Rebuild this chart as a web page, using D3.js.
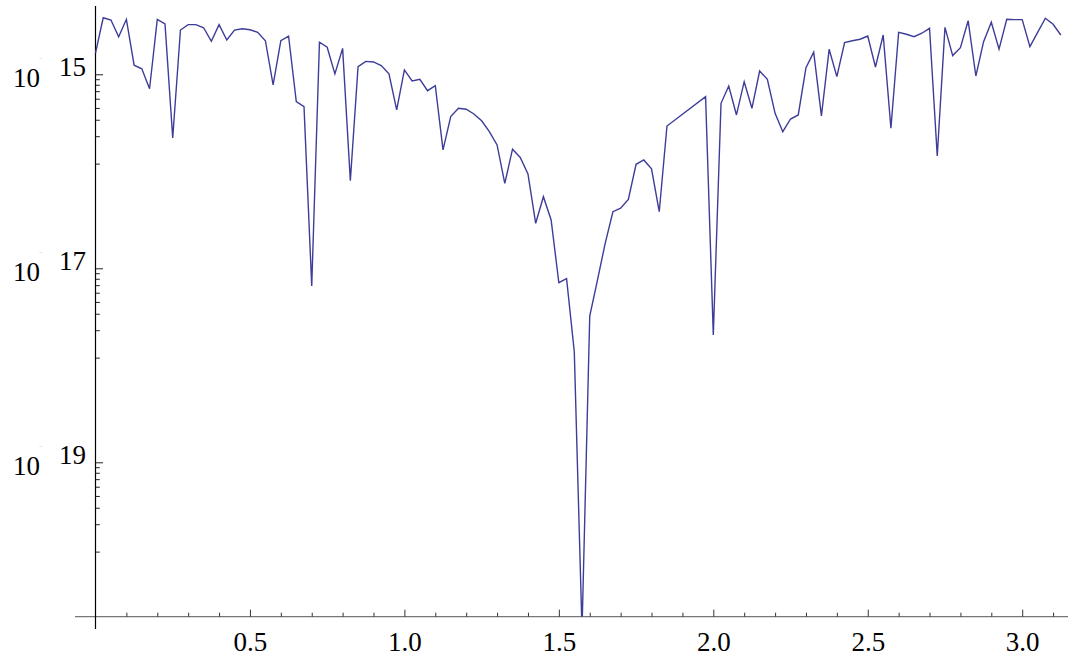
<!DOCTYPE html>
<html>
<head>
<meta charset="utf-8">
<script src="https://cdn.jsdelivr.net/npm/d3@7"></script>
<style>
  html, body { margin: 0; padding: 0; background: #fff; }
  svg { display: block; }
  svg text { font-family: "Liberation Serif", "Times New Roman", Times, "DejaVu Serif", serif; }
</style>
</head>
<body>
<svg id="chart" width="1068" height="655"></svg>
<script>
// sample positions (x) and magnitudes (y); a few samples near 1.9 are absent
const xs = [
  0.000, 0.025, 0.050, 0.075, 0.100, 0.125, 0.150, 0.175, 0.200, 0.225,
  0.250, 0.275, 0.300, 0.325, 0.350, 0.375, 0.400, 0.425, 0.450, 0.475,
  0.500, 0.525, 0.550, 0.575, 0.600, 0.625, 0.650, 0.675, 0.700, 0.725,
  0.750, 0.775, 0.800, 0.825, 0.850, 0.875, 0.900, 0.925, 0.950, 0.975,
  1.000, 1.025, 1.050, 1.075, 1.100, 1.125, 1.150, 1.175, 1.200, 1.225,
  1.250, 1.275, 1.300, 1.325, 1.350, 1.375, 1.400, 1.425, 1.450, 1.475,
  1.500, 1.525, 1.550, 1.575, 1.600, 1.625, 1.650, 1.675, 1.700, 1.725,
  1.750, 1.775, 1.800, 1.825, 1.850,
  1.975, 2.000, 2.025, 2.050, 2.075, 2.100, 2.125, 2.150, 2.175, 2.200,
  2.225, 2.250, 2.275, 2.300, 2.325, 2.350, 2.375, 2.400, 2.425, 2.450,
  2.475, 2.500, 2.525, 2.550, 2.575, 2.600, 2.625, 2.650, 2.675, 2.700,
  2.725, 2.750, 2.775, 2.800, 2.825, 2.850, 2.875, 2.900, 2.925, 2.950,
  2.975, 3.000, 3.025, 3.050, 3.075, 3.100, 3.125
];

const values = [
  1.65e-15, 3.83e-15, 3.63e-15, 2.44e-15, 3.69e-15, 1.24e-15, 1.14e-15, 7.10e-16, 3.69e-15, 3.30e-15,
  2.21e-16, 2.86e-15, 3.25e-15, 3.25e-15, 3.02e-15, 2.19e-15, 3.25e-15, 2.26e-15, 2.86e-15, 2.95e-15,
  2.88e-15, 2.71e-15, 2.22e-15, 7.76e-16, 2.22e-15, 2.48e-15, 5.22e-16, 4.63e-16, 6.57e-18, 2.14e-15,
  1.90e-15, 1.01e-15, 1.85e-15, 8.00e-17, 1.20e-15, 1.36e-15, 1.34e-15, 1.23e-15, 1.01e-15, 4.29e-16,
  1.11e-15, 8.53e-16, 8.88e-16, 6.78e-16, 7.63e-16, 1.66e-16, 3.66e-16, 4.46e-16, 4.36e-16, 3.90e-16,
  3.32e-16, 2.56e-16, 1.87e-16, 7.52e-17, 1.69e-16, 1.39e-16, 9.38e-17, 2.91e-17, 5.47e-17, 3.15e-17,
  7.10e-18, 7.81e-18, 1.38e-18, 1.87e-21, 3.22e-18, 7.57e-18, 1.81e-17, 3.83e-17, 4.16e-17, 5.14e-17,
  1.18e-16, 1.31e-16, 1.06e-16, 3.83e-17, 2.93e-16,
  5.88e-16, 2.05e-18, 5.02e-16, 7.58e-16, 3.81e-16, 8.39e-16, 4.46e-16, 1.08e-15, 8.88e-16, 3.96e-16,
  2.56e-16, 3.46e-16, 3.81e-16, 1.17e-15, 1.69e-15, 3.72e-16, 1.81e-15, 9.45e-16, 2.12e-15, 2.22e-15,
  2.30e-15, 2.48e-15, 1.19e-15, 2.54e-15, 2.78e-16, 2.71e-15, 2.59e-15, 2.44e-15, 2.65e-15, 2.98e-15,
  1.44e-16, 3.05e-15, 1.56e-15, 1.88e-15, 3.57e-15, 9.60e-16, 2.17e-15, 3.44e-15, 1.82e-15, 3.69e-15,
  3.66e-15, 3.66e-15, 1.93e-15, 2.71e-15, 3.78e-15, 3.28e-15, 2.54e-15
];

const xMajorTicks = [0.5, 1.0, 1.5, 2.0, 2.5, 3.0];
const xMinorTicks = [0.1, 0.2, 0.3, 0.4, 0.6, 0.7, 0.8, 0.9, 1.1, 1.2, 1.3, 1.4,
                     1.6, 1.7, 1.8, 1.9, 2.1, 2.2, 2.3, 2.4, 2.6, 2.7, 2.8, 2.9, 3.1];
const yMajorExponents = [-15, -17, -19];

const FONT = "'Liberation Serif', 'Times New Roman', Times, 'DejaVu Serif', serif";

const svg = d3.select("#chart");

const plotTop = 6, plotBottom = 616.7, plotLeft = 95.5, plotRight = 1068;

const x = d3.scaleLinear().domain([0, 3]).range([plotLeft, 1022.2]);
const y = d3.scaleLog().domain([1e-15, 1e-19]).range([74.3, 462.3]);

// y minor ticks: linear subdivisions between consecutive labelled powers
const yMinorTicks = [];
yMajorExponents.forEach(e => {
  const hi = Math.pow(10, e), lo = Math.pow(10, e - 2);
  for (let k = 1; k <= 8; k++) {
    const v = hi - k * (hi - lo) / 9;
    const py = y(v);
    if (py > plotTop && py < plotBottom) yMinorTicks.push(v);
  }
});

// clip region for the data curve
svg.append("defs").append("clipPath").attr("id", "plot-clip")
  .append("rect")
  .attr("x", plotLeft - 5).attr("y", 0)
  .attr("width", plotRight - plotLeft + 5).attr("height", plotBottom);

// x axis
const xAxisG = svg.append("g").attr("transform", `translate(0,${plotBottom})`);
xAxisG.append("line")
  .attr("x1", 75).attr("x2", plotRight)
  .attr("y1", 0).attr("y2", 0)
  .attr("stroke", "#777").attr("stroke-width", 1.2);

const xMajorAxis = d3.axisBottom(x).tickValues(xMajorTicks).tickSize(-7)
  .tickPadding(15).tickFormat(d3.format(".1f"));
const xMinorAxis = d3.axisBottom(x).tickValues(xMinorTicks).tickSize(-4).tickFormat("");

const gxMaj = xAxisG.append("g").call(xMajorAxis).attr("font-family", FONT).attr("font-size", 27);
const gxMin = xAxisG.append("g").call(xMinorAxis);
[gxMaj, gxMin].forEach(g => {
  g.select(".domain").remove();
  g.selectAll(".tick line").attr("stroke", "#333").attr("stroke-width", 1);
});
gxMaj.selectAll(".tick text")
  .attr("fill", "#000")
  .attr("font-family", FONT)
  .style("font-family", FONT)
  .style("font-size", "27px");

// y axis
const yAxisG = svg.append("g").attr("transform", `translate(${plotLeft},0)`);
yAxisG.append("line")
  .attr("x1", 0).attr("x2", 0)
  .attr("y1", plotTop).attr("y2", 629)
  .attr("stroke", "#000").attr("stroke-width", 1.2);

const yMajorAxis = d3.axisLeft(y)
  .tickValues(yMajorExponents.map(e => Math.pow(10, e)))
  .tickSize(-7.5).tickFormat("");
const yMinorAxis = d3.axisLeft(y).tickValues(yMinorTicks).tickSize(-4.3).tickFormat("");
const gyMaj = yAxisG.append("g").call(yMajorAxis);
const gyMin = yAxisG.append("g").call(yMinorAxis);
[gyMaj, gyMin].forEach(g => {
  g.select(".domain").remove();
  g.selectAll(".tick line").attr("stroke", "#222").attr("stroke-width", 1);
});

// y labels: 10 with raised exponent
yMajorExponents.forEach(e => {
  const ty = y(Math.pow(10, e));
  const t = svg.append("text").attr("fill", "#000")
    .style("font-family", FONT).style("font-size", "27px");
  t.append("tspan").attr("x", 13).attr("y", ty + 12.8).text("10");
  t.append("tspan").attr("x", 39).attr("y", ty - 14.5)
    .style("font-size", "6px").attr("fill", "#aaa").text("\u2212");
  t.append("tspan").attr("x", 59).attr("y", ty + 2).text(String(-e));
});

// data curve
const points = xs.map((d, i) => [d, values[i]]);
const line = d3.line().x(d => x(d[0])).y(d => y(d[1]));

svg.append("g").attr("clip-path", "url(#plot-clip)")
  .append("path")
  .datum(points)
  .attr("d", line)
  .attr("fill", "none")
  .attr("stroke", "#3d3d99")
  .attr("stroke-width", 1.4)
  .attr("stroke-linejoin", "miter");
</script>
</body>
</html>
